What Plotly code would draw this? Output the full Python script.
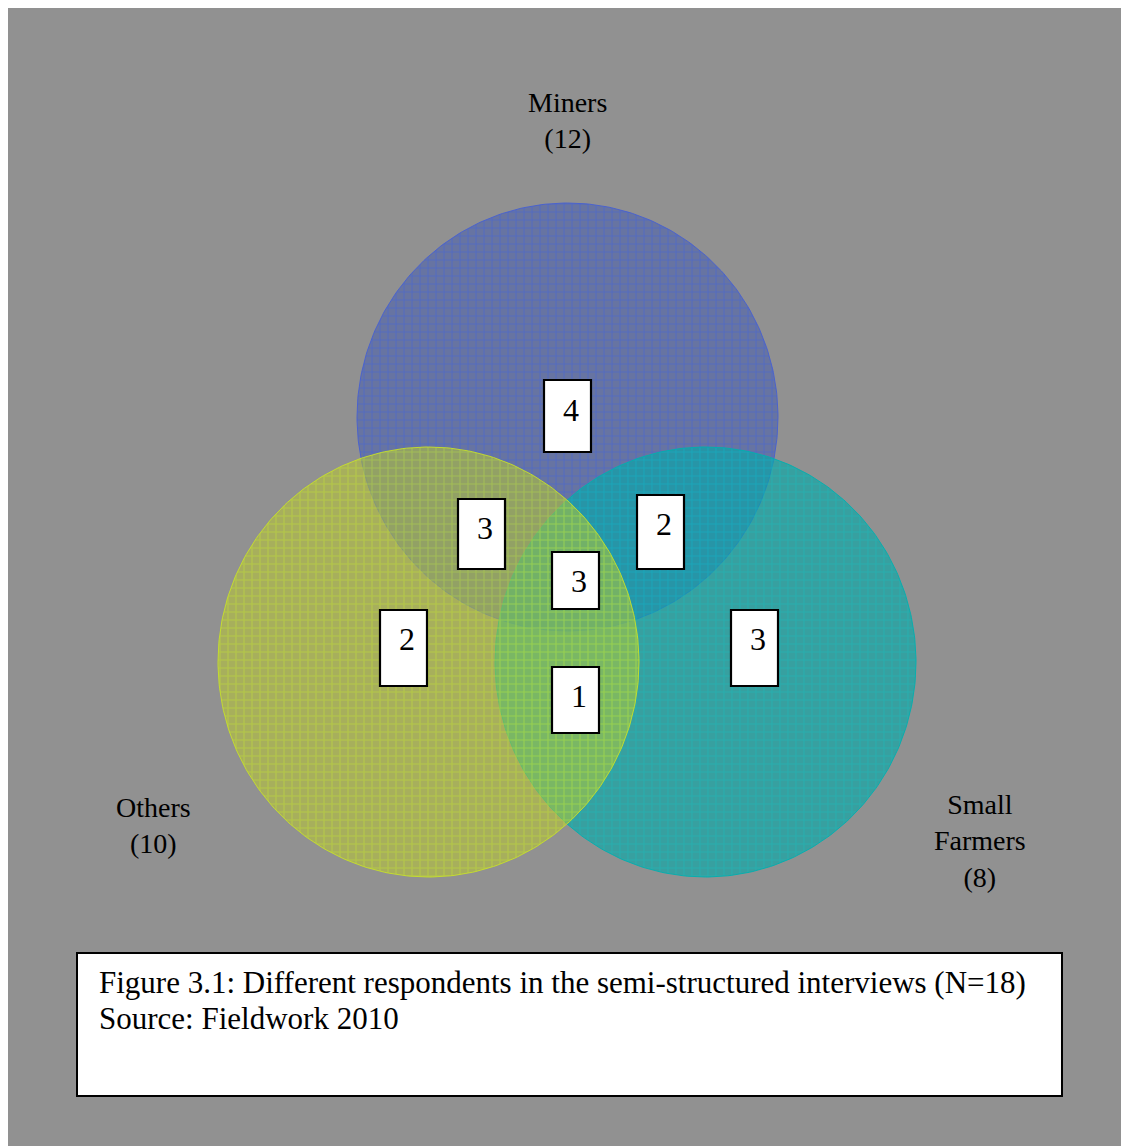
import numpy as np
import plotly.graph_objects as go

# ---- data ----
set_names = ["Miners", "Others", "Small<br>Farmers"]
set_totals = [12, 10, 8]
region_names = ["Miners only", "Miners & Others", "Miners & Small Farmers", "All three",
                "Others only", "Others & Small Farmers", "Small Farmers only"]
region_counts = [4, 3, 2, 3, 2, 1, 3]
caption_lines = ["Figure 3.1: Different respondents in the semi-structured interviews (N=18)",
                 "Source: Fieldwork 2010"]

# ---- layout (pixel space of the page; page body has 8px margin) ----
W, H = 1129, 1146
OFF = 8
GRAY = "#919191"
circles = {  # cx, cy, rx, ry
    "Miners": (567.5, 417, 210.5, 214),
    "Small<br>Farmers": (705.5, 662, 210.5, 215),
    "Others": (428.5, 662, 210.5, 215),
}
circle_style = {
    "Miners": dict(fill="rgba(45,75,185,0.42)", line="rgba(70,95,210,0.9)", grid="rgba(60,95,225,0.9)"),
    "Small<br>Farmers": dict(fill="rgba(0,170,170,0.62)", line="rgba(0,175,175,0.9)", grid="rgba(20,190,190,0.9)"),
    "Others": dict(fill="rgba(190,205,40,0.50)", line="rgba(200,225,40,0.9)", grid="rgba(195,230,45,0.9)"),
}
draw_order = ["Miners", "Small<br>Farmers", "Others"]
set_label_pos = {"Miners": (567, 120), "Others": (153, 825), "Small<br>Farmers": (980, 841)}
# box: x0, x1, y0, y1 ; text centre y
region_boxes = [
    (544, 591, 380, 452, 410),
    (458, 505, 499, 569, 528),
    (637, 684, 495, 569, 524),
    (552, 599, 552, 609, 581),
    (380, 427, 610, 686, 639),
    (552, 599, 667, 733, 696),
    (731, 778, 610, 686, 639),
]
caption_y = [982, 1018]
FONT = "Liberation Serif"

fig = go.Figure()
t = np.linspace(0, 2 * np.pi, 361)
for name in draw_order:
    cx, cy, rx, ry = circles[name]
    st = circle_style[name]
    fig.add_trace(go.Scatter(
        x=cx + rx * np.cos(t), y=cy + ry * np.sin(t),
        mode="lines", fill="toself", fillcolor=st["fill"],
        line=dict(color=st["line"], width=1),
        fillpattern=dict(shape="+", size=8, solidity=0.25, fgcolor=st["grid"], fillmode="overlay"),
        hoverinfo="skip", showlegend=False, name=name.replace("<br>", " ")))

shapes = []
annotations = []
for (x0, x1, y0, y1, ty), cnt in zip(region_boxes, region_counts):
    shapes.append(dict(type="rect", xref="x", yref="y", x0=x0, x1=x1, y0=y0, y1=y1,
                       fillcolor="white", line=dict(color="black", width=2.2), layer="above"))
    annotations.append(dict(x=(x0 + x1) / 2 + 3, y=ty, xref="x", yref="y", text=str(cnt),
                            showarrow=False, font=dict(family=FONT, size=32, color="black")))

for name, total in zip(set_names, set_totals):
    x, y = set_label_pos[name]
    annotations.append(dict(x=x, y=y, xref="x", yref="y", text=f"{name}<br>({total})",
                            showarrow=False, align="center",
                            font=dict(family=FONT, size=28, color="black")))

# caption box
shapes.append(dict(type="rect", xref="x", yref="y", x0=77, x1=1062, y0=953, y1=1096,
                   fillcolor="white", line=dict(color="black", width=2), layer="above"))
for line, cy in zip(caption_lines, caption_y):
    annotations.append(dict(x=97, y=cy, xref="x", yref="y", text=line,
                            showarrow=False, xanchor="left", yanchor="middle", align="left",
                            font=dict(family=FONT, size=31, color="black")))

fig.update_layout(
    width=W - OFF, height=H - OFF,
    margin=dict(l=0, r=0, t=0, b=0),
    paper_bgcolor="white", plot_bgcolor=GRAY,
    xaxis=dict(range=[OFF, W], visible=False, showgrid=False, zeroline=False, fixedrange=True),
    yaxis=dict(range=[H, OFF], visible=False, showgrid=False, zeroline=False, fixedrange=True),
    shapes=shapes, annotations=annotations,
)
fig.write_html("out.html")
